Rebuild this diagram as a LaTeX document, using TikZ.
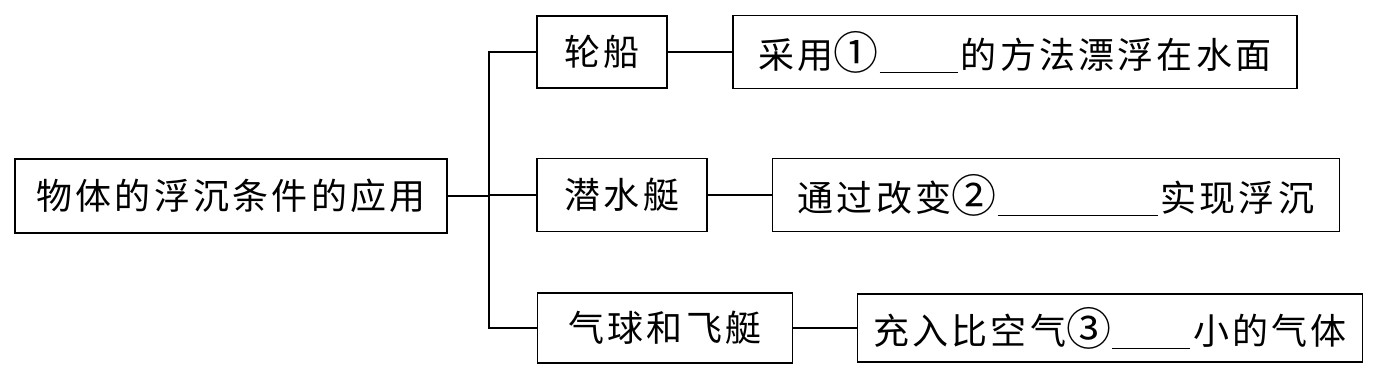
\documentclass[tikz,border=0pt]{standalone}
\usepackage{fontspec}
\newfontfamily\cjk[LetterSpace=9]{Noto Sans CJK SC}
\newcommand{\blank}[1]{\hspace{1pt}\rule[-5pt]{#1}{1.3pt}\hspace{3pt}}
\newcommand{\circnum}[1]{\raisebox{-1pt}{\scalebox{1.25}{#1}}}
\begin{document}
\begin{tikzpicture}[x=1pt,y=-1pt,
  box/.style={draw, line width=1.3pt, inner sep=0pt, font=\cjk\fontsize{36}{36}\selectfont},
  conn/.style={line width=1.3pt}]
\useasboundingbox (0,0) rectangle (1391,372);
\node[box, minimum width=432, minimum height=74] (root) at (231,196) {物体的浮沉条件的应用};
\node[box, minimum width=130, minimum height=72] (lc) at (602,52) {轮船};
\node[box, minimum width=564, minimum height=73] (lct) at (1015,52) {采用\circnum{①}\blank{78pt}的方法漂浮在水面};
\node[box, minimum width=170, minimum height=73] (qs) at (622,195) {潜水艇};
\node[box, minimum width=567, minimum height=73] (tg) at (1056,195) {通过改变\circnum{②}\blank{160pt}实现浮沉};
\node[box, minimum width=255, minimum height=70] (qq) at (665,328) {气球和飞艇};
\node[box, minimum width=505, minimum height=68] (cr) at (1110,328) {充入比空气\circnum{③}\blank{78pt}小的气体};
\coordinate (t1) at (489,52);
\coordinate (t3) at (489,328);
\coordinate (t2) at (489,196);
\draw[conn] (root.east) -- (t2);
\draw[conn] (lc.west) -- (t1) -- (t3) -- (qq.west);
\draw[conn] (t2 |- qs.west) -- (qs.west);
\draw[conn] (lc.east) -- (lct.west);
\draw[conn] (qs.east) -- (tg.west);
\draw[conn] (qq.east) -- (cr.west);
\end{tikzpicture}
\end{document}
